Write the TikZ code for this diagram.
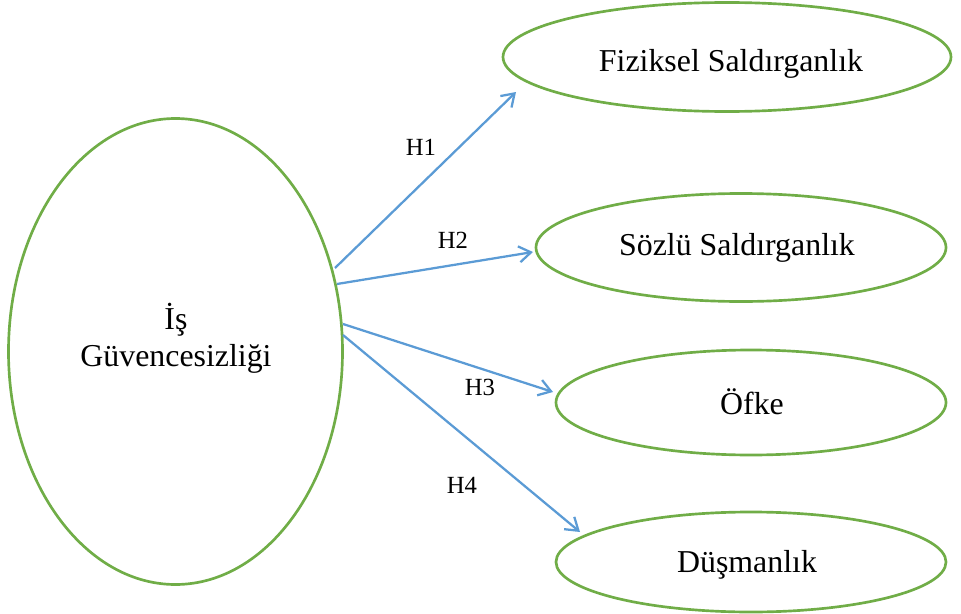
\documentclass[tikz,border=0pt]{standalone}
\usepackage{fontspec}
\setmainfont{Liberation Serif}
\usetikzlibrary{arrows.meta,shapes.geometric}
\definecolor{egreen}{HTML}{70AD47}
\definecolor{ablue}{HTML}{5B9BD5}
\begin{document}
\begin{tikzpicture}[x=0.75pt,y=-0.75pt,
  ell/.style={draw=egreen,line width=2pt,ellipse,inner sep=0pt},
  txt/.style={font=\fontsize{23.9}{28}\selectfont,align=center,inner sep=0pt},
  hlab/.style={font=\fontsize{18.5}{21}\selectfont,inner sep=0pt},
  conn/.style={draw=ablue,line width=1.7pt,-{Straight Barb[length=9pt,width=12pt,line width=1.7pt]}}]
\useasboundingbox (0,0) rectangle (961,614);
\node[ell,minimum width=334pt*0.75,minimum height=466pt*0.75] (big) at (175.5,351.5) {};
\node[ell,minimum width=448pt*0.75,minimum height=109pt*0.75] (e1) at (727,57) {};
\node[ell,minimum width=410pt*0.75,minimum height=108pt*0.75] (e2) at (741,247.5) {};
\node[ell,minimum width=390pt*0.75,minimum height=105pt*0.75] (e3) at (751,402.5) {};
\node[ell,minimum width=390pt*0.75,minimum height=100pt*0.75] (e4) at (751,562) {};
\node[txt] (tbig) at (176,338) {İş\\Güvencesizliği};
\node[txt] (t1) at (731,64) {Fiziksel Saldırganlık};
\node[txt] (t2) at (737,248) {Sözlü Saldırganlık};
\node[txt] (t3) at (752,402) {Öfke};
\node[txt] (t4) at (747,565) {Düşmanlık};
\coordinate (s1) at (335,268);
\coordinate (s2) at (337,284);
\coordinate (s3) at (343,324);
\coordinate (s4) at (343,335);
\coordinate (d1) at (516,92);
\coordinate (d2) at (533,252);
\coordinate (d3) at (553,392);
\coordinate (d4) at (580,532);
\draw[conn] (s1) -- (d1);
\draw[conn] (s2) -- (d2);
\draw[conn] (s3) -- (d3);
\draw[conn] (s4) -- (d4);
\node[hlab] (h1) at (421,147) {H1};
\node[hlab] (h2) at (453,240) {H2};
\node[hlab] (h3) at (480,387) {H3};
\node[hlab] (h4) at (462,485) {H4};
\end{tikzpicture}
\end{document}
